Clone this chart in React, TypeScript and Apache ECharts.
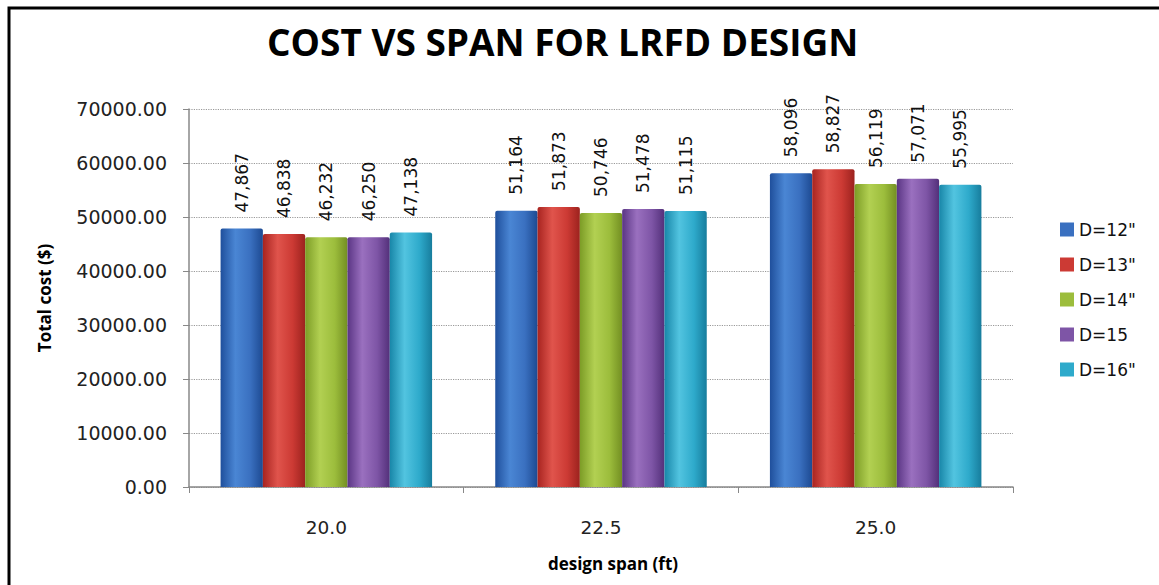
import React, { useEffect, useRef } from "react";
import * as echarts from "echarts";

const categories = ["20.0", "22.5", "25.0"];
const seriesNames = ['D=12"', 'D=13"', 'D=14"', "D=15", 'D=16"'];
const d12 = [47867, 51164, 58096];
const d13 = [46838, 51873, 58827];
const d14 = [46232, 50746, 56119];
const d15 = [46250, 51478, 57071];
const d16 = [47138, 51115, 55995];
const yTicks = [0, 10000, 20000, 30000, 40000, 50000, 60000, 70000];

const FONT = "'DejaVu Sans', Verdana, sans-serif";
const palettes = [
  ["#1f4f9c", "#4a86d4", "#3a70c0", "#1d4a92"],
  ["#a82420", "#e0544c", "#cc3a34", "#9c221e"],
  ["#7c9c26", "#b2d052", "#9cbd3c", "#738f22"],
  ["#5a3584", "#9a70bf", "#7e55a6", "#53307a"],
  ["#1886a8", "#52c4e0", "#2eaacb", "#177d9d"],
];

function grad(p: string[]) {
  return new echarts.graphic.LinearGradient(0, 0, 1, 0, [
    { offset: 0, color: p[0] },
    { offset: 0.35, color: p[1] },
    { offset: 0.7, color: p[2] },
    { offset: 1, color: p[3] },
  ]);
}

function fmt(v: number) {
  const s = String(Math.round(v));
  return s.replace(/\B(?=(\d{3})+(?!\d))/g, ",");
}

export default function App() {
  const ref = useRef<HTMLDivElement>(null);
  useEffect(() => {
    if (!ref.current) return;
    const chart = echarts.init(ref.current, undefined, { renderer: "svg" });
    const all = [d12, d13, d14, d15, d16];
    chart.setOption({
      animation: false,
      backgroundColor: "#ffffff",
      title: {
        text: "COST VS SPAN FOR LRFD DESIGN",
        left: 262,
        top: 18,
        textStyle: {
          fontFamily: "Open Sans",
          fontWeight: "bold",
          fontSize: 37,
          color: "#000",
        },
      },
      graphic: [
        {
          type: "rect",
          shape: { x: 9, y: 8, width: 1160, height: 600 },
          style: { fill: "none", stroke: "#000", lineWidth: 3 },
          silent: true,
        },
      ],
      legend: {
        orient: "vertical",
        left: 1055,
        top: 216,
        itemWidth: 14,
        itemHeight: 14,
        itemGap: 18,
        icon: "rect",
        textStyle: { fontFamily: FONT, fontSize: 17, color: "#111" },
        data: seriesNames.map((n, i) => ({
          name: n,
          itemStyle: { color: palettes[i][2] },
        })),
      },
      grid: { left: 189, right: 146, top: 109, bottom: 98 },
      xAxis: {
        type: "category",
        data: categories,
        name: "design span (ft)",
        nameLocation: "middle",
        nameGap: 68,
        nameTextStyle: {
          fontFamily: "Open Sans",
          fontWeight: "bold",
          fontSize: 17,
          color: "#000",
          padding: [0, 0, 0, 24],
        },
        axisLine: { lineStyle: { color: "#888", width: 1.5 } },
        axisTick: { show: true, length: 6, lineStyle: { color: "#888" } },
        axisLabel: {
          margin: 31,
          fontFamily: FONT,
          fontSize: 18.5,
          color: "#222",
        },
      },
      yAxis: {
        type: "value",
        min: 0,
        max: 70000,
        interval: 10000,
        name: "Total cost ($)",
        nameLocation: "middle",
        nameGap: 136,
        nameRotate: 90,
        nameTextStyle: {
          fontFamily: "Open Sans",
          fontWeight: "bold",
          fontSize: 17,
          color: "#000",
        },
        axisLine: { show: true, lineStyle: { color: "#888", width: 1.5 } },
        axisTick: { show: true, length: 6, lineStyle: { color: "#888" } },
        splitLine: {
          show: true,
          lineStyle: { color: "#999", type: "dotted", width: 1.2 },
        },
        axisLabel: {
          margin: 22,
          fontFamily: FONT,
          fontSize: 19,
          color: "#222",
          formatter: (v: number) => (yTicks.includes(v) ? v.toFixed(2) : ""),
        },
      },
      series: all.map((d, i) => ({
        name: seriesNames[i],
        type: "bar",
        data: d,
        barGap: "0%",
        barCategoryGap: "23%",
        itemStyle: {
          color: grad(palettes[i]),
          borderRadius: [2, 2, 0, 0],
        },
        label: {
          show: true,
          position: "top",
          rotate: 90,
          align: "left",
          verticalAlign: "middle",
          distance: 16,
          fontFamily: FONT,
          fontSize: 17,
          color: "#111",
          formatter: (p: any) => fmt(p.value),
        },
      })),
    });
    return () => chart.dispose();
  }, []);
  return (
    <div
      ref={ref}
      style={{ position: "absolute", left: 0, top: 0, width: 1159, height: 585 }}
    />
  );
}
